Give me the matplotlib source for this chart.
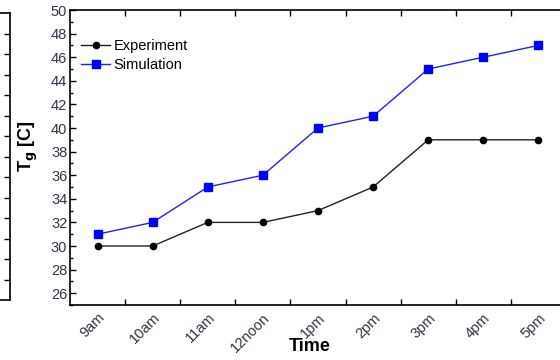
import matplotlib
matplotlib.use("Agg")
import matplotlib.pyplot as plt
import matplotlib.transforms as mtransforms
from matplotlib.ticker import MultipleLocator, FixedLocator

plt.rcParams['font.family'] = ['Liberation Sans', 'DejaVu Sans']

times = ['9am', '10am', '11am', '12noon', '1pm', '2pm', '3pm', '4pm', '5pm']
experiment = [30, 30, 32, 32, 33, 35, 39, 39, 39]
simulation = [31, 32, 35, 36, 40, 41, 45, 46, 47]

fig = plt.figure(figsize=(5.6, 3.6), dpi=100)

# partial neighbouring panel at the far left
axl = fig.add_axes([-0.3, 1 - 300/360, 0.3 + 10/560, (300 - 13)/360])
axl.set_xlim(0, 1)
axl.set_ylim(0, 14)
axl.set_xticks([])
axl.yaxis.tick_right()
axl.yaxis.set_major_locator(FixedLocator(range(1, 14)))
axl.tick_params(axis='y', direction='in', length=4, width=1, labelright=False)
for s in axl.spines.values():
    s.set_linewidth(1.2)

ax = fig.add_axes([70/560, 1 - 305/360, 496/560, (305 - 10)/360])
x = list(range(len(times)))
ax.plot(x, experiment, color='#222222', lw=1.0, marker='o', ms=4.5,
        markerfacecolor='black', markeredgecolor='black', label='Experiment')
ax.plot(x, simulation, color='#2020ff', lw=1.0, marker='s', ms=5.5,
        markerfacecolor='#0000ff', markeredgecolor='#0000ff', label='Simulation')

ax.set_xlim(-0.5, 8.5)
ax.set_ylim(25, 50)
ax.yaxis.set_major_locator(MultipleLocator(2))
ax.yaxis.set_minor_locator(MultipleLocator(1))
ax.set_xticks(x)
ax.set_xticklabels(times, rotation=45, ha='right', va='top', rotation_mode='anchor')
offset = mtransforms.ScaledTranslation(-4/100, 0, fig.dpi_scale_trans)
for lbl in ax.get_xticklabels():
    lbl.set_transform(lbl.get_transform() + offset)
ax.xaxis.set_minor_locator(FixedLocator([i + 0.5 for i in x]))
ax.tick_params(axis='x', which='major', length=0, pad=4)
ax.tick_params(axis='x', which='minor', direction='in', length=4, width=1,
               top=True, bottom=True)
ax.tick_params(axis='y', which='major', direction='in', length=4, width=1, pad=2)
ax.tick_params(axis='y', which='minor', direction='in', length=2.5, width=1)
ax.tick_params(labelsize=10.5, labelcolor='#33334a')
ax.spines['right'].set_visible(False)
for s in ['left', 'top', 'bottom']:
    ax.spines[s].set_linewidth(1.2)

ax.set_xlabel('Time', fontsize=13, fontweight='bold')
ax.xaxis.set_label_coords((310 - 70) / 496, (305 - 338) / 295)
ax.set_ylabel(r'T$_\mathbf{g}$ [C]', fontsize=13, fontweight='bold')
ax.yaxis.set_label_coords((40 - 70) / 496, (305 - 146) / 295)

leg = ax.legend(loc='upper left', bbox_to_anchor=(0.005, 0.93), frameon=False,
                fontsize=10.5, handlelength=2.0, handletextpad=0.2,
                labelspacing=0.3, borderaxespad=0.2)

fig.savefig('out.png', dpi=100)
